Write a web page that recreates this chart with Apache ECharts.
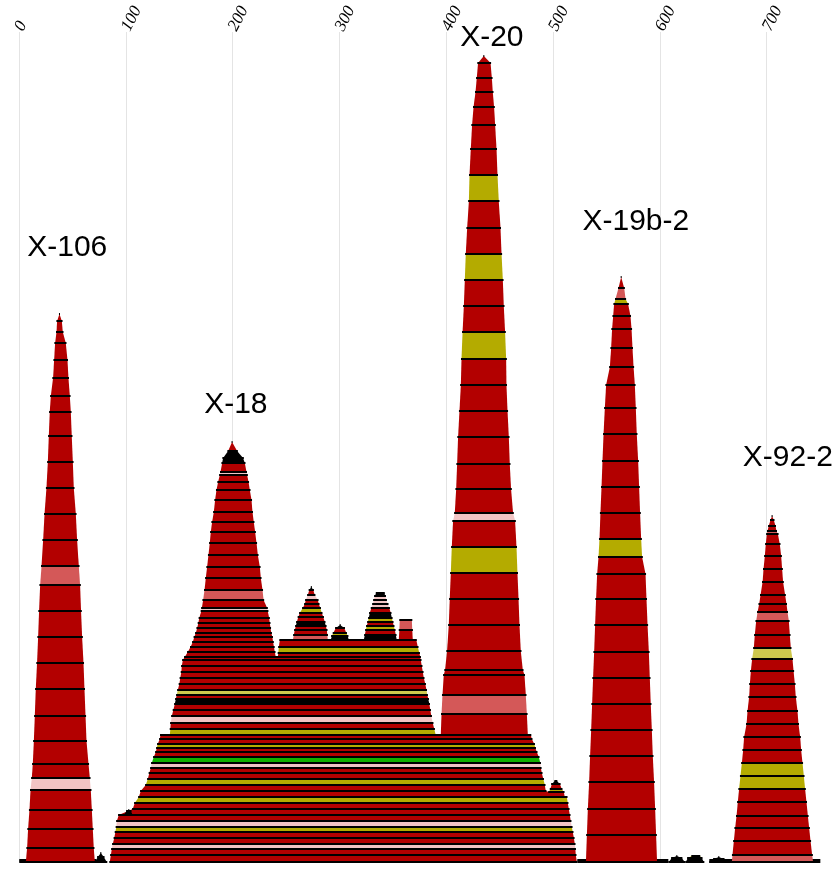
<!DOCTYPE html>
<html>
<head>
<meta charset="utf-8">
<script src="https://cdn.jsdelivr.net/npm/echarts@6/dist/echarts.min.js"></script>
<style>html,body{margin:0;padding:0;background:#fff}#c{width:835px;height:869px}</style>
</head>
<body>
<div id="c"></div>
<script>
// ---- tick labels / axis ----
var xTicks = [0, 100, 200, 300, 400, 500, 600, 700];

// ---- peak labels ----
var labelText = ['X-106', 'X-18', 'X-20', 'X-19b-2', 'X-92-2'];
var labelX = [45.2, 203.0, 442.7, 577.5, 719.8];
var labelY = [614, 457, 824, 640, 404];

// ---- layer colours (one letter per layer) ----
var palette = { r: '#b30000', s: '#d45858', p: '#f2c4c4', o: '#b4ab00', l: '#cec84e', g: '#10b000', k: '#000000' };

// Each stack: boundary rows [height, left, right] bottom -> top, colours for layers between rows
var baseLineA = [[0, 0.7, 71.9], [2, 0.7, 71.9]];
var baseLineAColors = 'k';
var baseLineB = [[0, 523.2, 607.5], [2, 523.2, 607.5]];
var baseLineBColors = 'k';
var baseLineC = [[0, 646.8, 749.8], [2, 646.8, 749.8]];
var baseLineCColors = 'k';

var moundA = [[0, 71.0, 82.2], [5, 73.8, 79.4], [9, 76.6, 76.6]];
var moundAColors = 'kk';
var moundB = [[0, 608.4, 623.4], [4, 611.2, 620.5], [6, 615.9, 615.9]];
var moundBColors = 'kk';
var moundC = [[0, 624.3, 641.2], [4, 626.2, 639.3], [6, 629.9, 637.4]];
var moundCColors = 'ko';
var moundD = [[0, 646.8, 663.6], [3, 650.5, 659.9], [5, 655.2, 655.2]];
var moundDColors = 'kk';

var x106Rows = [
  [0, 6.4, 71.0], [14, 7.6, 70.0], [33, 8.5, 69.1], [52, 9.8, 68.2], [72, 10.8, 67.2],
  [84, 12.0, 66.3], [98, 12.9, 65.1], [121, 13.9, 63.2], [146, 14.8, 62.3], [173, 15.7, 61.3],
  [199, 16.9, 60.4], [225, 17.9, 59.1], [251, 18.8, 58.1], [277, 19.8, 57.2], [296, 21.1, 56.0],
  [322, 22.6, 54.4], [348, 23.9, 53.2], [374, 25.7, 51.3], [400, 27.0, 50.4], [426, 27.9, 49.4],
  [450, 28.8, 48.5], [466, 29.8, 47.6], [484, 31.9, 46.3], [502, 32.9, 45.4], [519, 33.8, 43.8],
  [530, 35.1, 41.0], [541, 35.7, 40.1], [548, 37.9, 37.9]
];
var x106Colors = 'rrrrprrrrrrrrsrrrrrrrrrrrrr';

var midBaseRows = [
  [0, 85.0, 522.3], [7, 86.0, 521.3], [13, 86.9, 520.9], [18, 87.8, 520.4], [24, 89.2, 519.5],
  [30, 90.2, 518.5], [35, 91.1, 517.6], [41, 91.6, 516.6], [47, 93.4, 515.7], [53, 106.5, 514.8],
  [59, 108.4, 513.8], [65, 112.2, 512.9], [71, 114.0, 493.2], [77, 118.7, 492.3], [83, 120.6, 490.9],
  [89, 122.0, 489.5], [94, 123.4, 488.6], [99, 124.3, 488.1], [105, 126.2, 486.7], [110, 128.1, 484.8],
  [114, 129.0, 483.4], [118, 129.9, 482.5], [123, 131.8, 480.1], [127, 132.5, 479.2]
];
var midBaseColors = 'rrprroprrrorrorrpgrrorr';

var midUpperRows = [
  [127, 141.2, 390.2], [133, 141.7, 388.8], [139, 142.1, 387.4], [146, 143.1, 386.0], [152, 144.5, 385.1],
  [158, 145.9, 384.2], [163, 146.8, 383.2], [167, 147.7, 382.3], [172, 148.7, 381.5], [178, 150.1, 380.4],
  [184, 151.0, 379.0], [190, 152.0, 378.1], [196, 152.4, 377.1], [202, 153.4, 376.2], [205, 155.2, 375.7]
];
var midUpperColors = 'orprrkrlrrrrrr';

var plateauRows = [[205, 242.3, 375.7], [209, 242.8, 374.8], [215, 243.3, 373.4], [222, 244.2, 372.0]];
var plateauColors = 'ror';

var x18Rows = [
  [205, 155.2, 240.4], [210, 158.0, 239.5], [215, 160.6, 238.7], [220, 162.7, 237.9], [225, 164.1, 237.2],
  [229, 165.5, 236.2], [234, 166.8, 235.5], [239, 167.9, 234.8], [244, 168.8, 234.2], [251, 170.7, 232.9],
  [254, 171.2, 232.3], [262, 172.4, 229.0], [272, 173.7, 228.0], [284, 174.9, 226.4], [295, 176.1, 225.5],
  [307, 177.4, 223.6], [319, 178.6, 222.4], [330, 179.6, 221.1], [340, 180.8, 219.8], [350, 182.4, 218.6],
  [362, 183.6, 217.7], [372, 184.9, 216.1], [380, 186.4, 214.9], [387, 188.0, 213.6], [390, 188.7, 213.0],
  [399, 190.2, 211.4], [404, 191.1, 209.8], [411, 195.8, 204.2], [420, 199.5, 199.5]
];
var x18Colors = 'rrrrrrrrrprsrrrrrrrrrrrprkkr';

var peakARows = [
  [222, 256.4, 289.1], [227, 257.3, 288.7], [232, 258.2, 288.2], [236, 259.2, 287.3], [240, 260.1, 286.3],
  [245, 261.5, 284.9], [249, 262.9, 283.5], [254, 265.7, 282.1], [258, 267.6, 280.7], [262, 268.5, 279.8],
  [267, 270.4, 276.9], [272, 271.8, 275.5], [275, 273.7, 273.7]
];
var peakAColors = 'srrkrrorrprk';
var peakBRows = [[222, 291.9, 308.8], [226, 292.9, 307.8], [229, 294.3, 306.4], [234, 296.6, 304.6], [237, 300.7, 300.7]];
var peakBColors = 'kork';
var peakCRows = [
  [222, 322.8, 353.7], [227, 323.8, 352.8], [232, 324.7, 351.9], [236, 325.6, 350.9], [240, 326.6, 350.0],
  [244, 327.5, 349.1], [249, 328.4, 348.1], [254, 329.9, 346.7], [258, 331.3, 345.3], [262, 332.2, 343.9],
  [266, 333.1, 343.0], [269, 334.5, 342.0]
];
var peakCColors = 'krorokrpppk';
var peakDRows = [[222, 355.6, 368.7], [232, 356.1, 368.2], [242, 356.5, 367.8]];
var peakDColors = 'rs';
var bumpLeftRows = [[47, 98.1, 106.5], [51, 100.9, 104.7], [52, 102.8, 102.8]];
var bumpLeftColors = 'kk';
var bumpRightRows = [[65, 495.1, 511.0], [70, 496.1, 510.1], [73, 497.5, 508.2], [78, 498.9, 506.4], [81, 501.7, 503.6]];
var bumpRightColors = 'rork';

var x20Rows = [
  [127, 394.9, 476.4], [148, 395.6, 475.5], [167, 396.5, 474.5], [187, 397.7, 473.3], [192, 398.9, 471.7],
  [211, 400.8, 469.8], [237, 402.4, 468.6], [263, 403.3, 467.7], [289, 404.3, 466.7], [315, 405.2, 465.8],
  [341, 406.4, 464.5], [349, 408.0, 462.6], [373, 409.3, 460.7], [398, 410.2, 459.5], [425, 411.1, 458.6],
  [451, 412.4, 457.4], [477, 413.7, 456.4], [503, 414.3, 456.1], [530, 415.3, 455.1], [556, 416.5, 453.9],
  [582, 417.4, 453.0], [608, 418.3, 451.8], [634, 419.6, 450.8], [661, 421.2, 449.2], [687, 421.8, 448.0],
  [713, 423.0, 447.1], [737, 424.2, 445.8], [755, 425.6, 444.8], [770, 427.4, 443.6], [784, 428.6, 442.7],
  [799, 429.8, 441.5], [806, 435.2, 435.2]
];
var x20Colors = 'rsrrrrrrorprrrrrrorrorrorrrrrrr';

var x19Rows = [
  [0, 530.8, 597.4], [27, 531.7, 596.5], [53, 532.6, 595.6], [80, 533.8, 594.6], [106, 534.7, 593.4],
  [132, 535.7, 592.5], [158, 536.6, 591.5], [184, 537.5, 590.6], [210, 538.5, 589.7], [237, 539.4, 588.5],
  [263, 540.3, 587.5], [288, 541.3, 586.6], [305, 542.6, 583.4], [323, 543.5, 582.5], [349, 544.4, 581.5],
  [375, 545.4, 580.6], [401, 546.3, 579.7], [428, 547.3, 578.4], [454, 548.5, 577.5], [477, 549.7, 576.6],
  [495, 553.2, 575.4], [514, 554.4, 574.4], [533, 555.3, 573.5], [546, 556.3, 572.5], [558, 557.2, 570.3],
  [563, 558.5, 567.9], [574, 561.3, 566.6], [585, 563.8, 563.8]
];
var x19Colors = 'rrrrrrrrrrrrorrrrrrrrrrrosr';

var x92Rows = [
  [0, 667.4, 743.5], [7, 668.0, 742.6], [21, 669.3, 741.1], [34, 670.5, 739.8], [46, 671.8, 738.6],
  [60, 673.0, 737.3], [73, 674.2, 736.0], [86, 675.5, 734.8], [99, 676.8, 733.6], [112, 678.0, 732.3],
  [125, 678.9, 731.4], [138, 681.2, 729.8], [151, 682.1, 728.9], [165, 683.6, 727.3], [178, 684.3, 726.4],
  [191, 685.2, 725.2], [203, 686.4, 724.2], [214, 688.0, 722.6], [227, 688.9, 721.7], [241, 690.2, 720.8],
  [250, 691.5, 719.5], [258, 693.0, 718.6], [267, 694.3, 717.3], [280, 696.2, 715.4], [293, 697.1, 714.5],
  [306, 698.3, 713.6], [318, 699.2, 712.3], [328, 700.2, 710.5], [331, 700.8, 709.2], [336, 702.0, 708.3],
  [342, 703.6, 706.7], [346, 705.1, 705.1]
];
var x92Colors = 'srrrrroorrrrrrrrlrrsrrrrrrrsrrr';

// ---- build layer table ----
var stacks = [
  [baseLineA, baseLineAColors], [baseLineB, baseLineBColors], [baseLineC, baseLineCColors],
  [moundA, moundAColors], [moundB, moundBColors], [moundC, moundCColors], [moundD, moundDColors],
  [midBaseRows, midBaseColors], [midUpperRows, midUpperColors], [plateauRows, plateauColors],
  [x18Rows, x18Colors], [peakARows, peakAColors], [peakBRows, peakBColors], [peakCRows, peakCColors],
  [peakDRows, peakDColors], [bumpLeftRows, bumpLeftColors], [bumpRightRows, bumpRightColors],
  [x20Rows, x20Colors], [x106Rows, x106Colors], [x19Rows, x19Colors], [x92Rows, x92Colors]
];
var colorKeys = Object.keys(palette);
var layers = [];
stacks.forEach(function (st) {
  var rows = st[0], cols = st[1];
  for (var i = 0; i < rows.length - 1; i++) {
    var b = rows[i], t = rows[i + 1];
    layers.push([b[0], t[0], b[1], b[2], t[1], t[2], colorKeys.indexOf(cols[i])]);
  }
});

var chart = echarts.init(document.getElementById('c'), null, { renderer: 'canvas' });
chart.setOption({
  animation: false,
  backgroundColor: '#ffffff',
  grid: { left: 19, right: 0, top: 32, bottom: 7 },
  xAxis: {
    type: 'value', position: 'top', min: 0, max: 764, interval: 100,
    axisLine: { show: false }, axisTick: { show: false },
    splitLine: { show: true, lineStyle: { color: '#e4e4e4', width: 1 } },
    axisLabel: {
      rotate: 63, margin: 2, color: '#000', fontSize: 17,
      fontFamily: 'Liberation Serif', fontStyle: 'italic',
      padding: [0, 0, 7, 0],
      customValues: xTicks
    }
  },
  yAxis: { type: 'value', min: 0, max: 830, show: false },
  series: [
    {
      type: 'custom',
      data: layers,
      encode: { x: [2, 3, 4, 5], y: [0, 1] },
      renderItem: function (params, api) {
        var yb = api.value(0), yt = api.value(1);
        var p1 = api.coord([api.value(2), yb]);
        var p2 = api.coord([api.value(3), yb]);
        var p3 = api.coord([api.value(5), yt]);
        var p4 = api.coord([api.value(4), yt]);
        var fill = palette[colorKeys[api.value(6)]];
        return {
          type: 'group',
          children: [
            { type: 'polygon', shape: { points: [p1, p2, p3, p4] }, style: { fill: fill } },
            { type: 'line', shape: { x1: p1[0] - 0.5, y1: p1[1], x2: p2[0] + 0.5, y2: p2[1] }, style: { stroke: '#000', lineWidth: 2 } },
            { type: 'line', shape: { x1: p4[0] - 0.5, y1: p4[1], x2: p3[0] + 0.5, y2: p3[1] }, style: { stroke: '#000', lineWidth: 2 } }
          ]
        };
      }
    },
    {
      type: 'custom',
      data: labelX.map(function (x, i) { return [x, labelY[i]]; }),
      encode: { x: 0, y: 1 },
      renderItem: function (params, api) {
        var c = api.coord([api.value(0), api.value(1)]);
        return {
          type: 'text', x: c[0], y: c[1],
          style: { text: labelText[params.dataIndex], fontSize: 30, fontFamily: 'Liberation Sans', fill: '#000', align: 'center', verticalAlign: 'middle' }
        };
      }
    }
  ]
});
</script>
</body>
</html>
